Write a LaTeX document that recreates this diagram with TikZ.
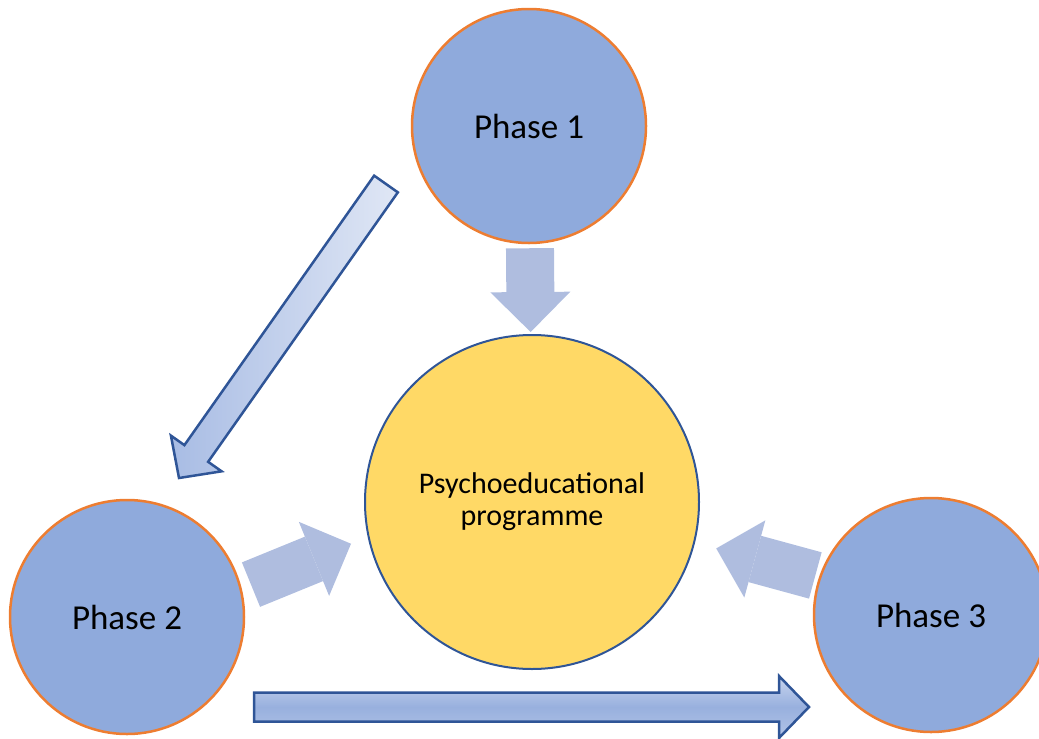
\documentclass[tikz,border=0pt]{standalone}
\usepackage{fontspec}
\setmainfont{Carlito}
\usepackage{tikz}
\usetikzlibrary{arrows.meta,calc}
\definecolor{phaseblue}{RGB}{143,170,220}
\definecolor{phaseorange}{RGB}{237,125,49}
\definecolor{progyellow}{RGB}{255,217,102}
\definecolor{darkblue}{RGB}{47,85,151}
\definecolor{arrowblue}{RGB}{175,189,223}

% outlined arrow between two named points: [style]{tail}{tip}
\newcommand{\fatarrow}[3][]{%
  \path ($(#3)!30pt!(#2)$) coordinate (hb);
  \draw[outarrow,#1] ($(#2)!14.5pt!90:(#3)$) -- ($(hb)!14.5pt!90:(#3)$)
    -- ($(hb)!31pt!90:(#3)$) -- (#3) -- ($(hb)!31pt!-90:(#3)$)
    -- ($(hb)!14.5pt!-90:(#3)$) -- ($(#2)!14.5pt!-90:(#3)$) -- cycle;
}

\begin{document}
\begin{tikzpicture}[x=1pt,y=-1pt,
    phase/.style={circle, draw=phaseorange, line width=2.5pt, fill=phaseblue,
      minimum size=234pt, inner sep=0pt, font=\fontsize{35}{40}\selectfont},
    prog/.style={circle, draw=darkblue, line width=2pt, fill=progyellow,
      minimum size=334pt, inner sep=0pt, align=center, font=\fontsize{30}{32}\selectfont},
    blockarrow/.style={draw=arrowblue, line width=48pt,
      -{Triangle[length=40pt,width=80pt,line width=0pt]}},
    outarrow/.style={draw=darkblue, line width=2.5pt, line join=miter}]
    \useasboundingbox (0,0) rectangle (1039,739);

    % Phases
    \node[phase] (p1) at (529,126) {Phase 1};
    \node[phase] (p2) at (127,617) {Phase 2};
    \node[phase] (p3) at (931,615) {Phase 3};

    % Programme
    \node[prog] (prog) at (532,502) {Psychoeducational\\programme};

    % Arrows into the programme
    \draw[blockarrow, shorten <=4pt, shorten >=2pt] (p1) -- (prog);
    \draw[blockarrow, shorten <=10pt, shorten >=18pt] (p2.14.7) -- (prog.192.2);
    \draw[blockarrow, shorten <=4pt, shorten >=22pt] (p3.161.6) -- (prog.-14.5);

    % Arrows between phases
    \coordinate (t12) at (386,184);
    \coordinate (h12) at (179,478);
    \fatarrow[left color={rgb,255:red,168;green,188;blue,228},
      right color={rgb,255:red,224;green,231;blue,245}]{t12}{h12}
    \coordinate (t23) at (254,707);
    \coordinate (h23) at (809,707);
    \fatarrow[top color={rgb,255:red,200;green,213;blue,238},
      bottom color={rgb,255:red,178;green,196;blue,231},
      middle color={rgb,255:red,152;green,176;blue,222}]{t23}{h23}
\end{tikzpicture}
\end{document}
